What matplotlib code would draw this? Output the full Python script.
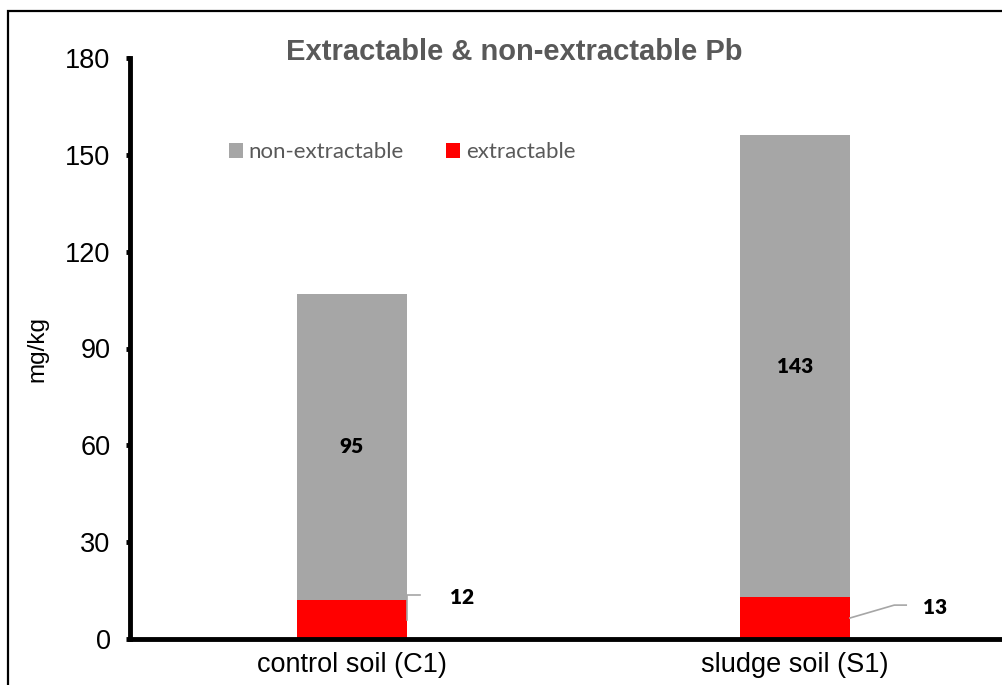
import matplotlib.pyplot as plt
from matplotlib.patches import Rectangle

# 数据
categories = ['control soil (C1)', 'sludge soil (S1)']
extractable = [12, 13]
non_extractable = [95, 143]
series_names = ['non-extractable', 'extractable']
yticks = [0, 30, 60, 90, 120, 150, 180]

plt.rcParams['font.family'] = ['Liberation Sans', 'DejaVu Sans']

fig = plt.figure(figsize=(10.03, 6.85), dpi=100)
ax = fig.add_axes([130/1003, 46/685, 873/1003, 581/685])

x = list(range(len(categories)))
w = 0.248
ax.bar(x, extractable, w, color='#FF0000', label=series_names[1], zorder=2)
ax.bar(x, non_extractable, w, bottom=extractable, color='#A6A6A6', label=series_names[0], zorder=2)

ax.set_xlim(-0.501, 1.4695)
ax.set_ylim(0, 180)
ax.set_yticks(yticks)
ax.set_xticks(x)
ax.set_xticklabels(categories, fontsize=19.5)
ax.tick_params(axis='y', labelsize=19.5, length=3, width=3.5, pad=11, direction='out')
ax.tick_params(axis='x', length=0, pad=9)
for s in ['top', 'right']:
    ax.spines[s].set_visible(False)
for s in ['left', 'bottom']:
    ax.spines[s].set_linewidth(3.5)

ax.set_ylabel('mg/kg', fontsize=17.5, labelpad=12)

# 标题
fig.text(514/1003, 1 - 52/685, 'Extractable & non-extractable Pb', fontsize=21,
         fontweight='bold', color='#595959', ha='center', va='center')

# 图例
h, l = ax.get_legend_handles_labels()
leg = ax.legend(h[::-1], l[::-1], loc='center', bbox_to_anchor=(402/1003, 1 - 152/685),
                bbox_transform=fig.transFigure, ncol=2, frameon=False,
                prop={'family': 'Lato', 'size': 16}, labelcolor='#595959',
                handlelength=0.65, handleheight=0.65, handletextpad=0.25, columnspacing=1.9)

# 数据标签：非提取部分居中
for i in x:
    ax.text(i, extractable[i] + non_extractable[i] / 2, str(non_extractable[i]),
            ha='center', va='center', fontsize=15, fontweight='heavy', family='Lato')

# 提取部分的引线和标签
edge = [i + w / 2 for i in x]
# C1
ax.plot([edge[0], edge[0], edge[0] + 0.03], [extractable[0] / 2, extractable[0] + 1.6, extractable[0] + 1.6],
        color='#A6A6A6', lw=1.2, zorder=3, clip_on=False)
ax.text(edge[0] + 0.125, extractable[0] + 1.0, str(extractable[0]), ha='center', va='center',
        fontsize=15, fontweight='heavy', family='Lato')
# S1
ax.plot([edge[1], edge[1] + 0.10, edge[1] + 0.127], [extractable[1] / 2, extractable[1] - 2.5, extractable[1] - 2.5],
        color='#A6A6A6', lw=1.2, zorder=3, clip_on=False)
ax.text(edge[1] + 0.192, extractable[1] - 3.1, str(extractable[1]), ha='center', va='center',
        fontsize=15, fontweight='heavy', family='Lato')

# 外框
fig.patches.append(Rectangle((8/1003, -0.2), 1.2, 0.2 + 1 - 10.5/685, transform=fig.transFigure,
                             fill=False, edgecolor='black', lw=1.6, clip_on=False))

fig.savefig('out.png', dpi=100)
